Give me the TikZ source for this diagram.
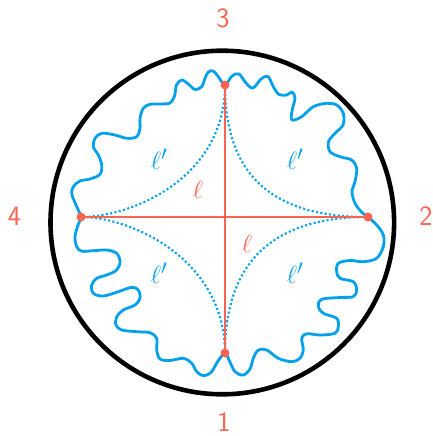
\documentclass[tikz,border=0pt]{standalone}
\usepackage{fontspec}
\usetikzlibrary{calc}
\definecolor{lred}{RGB}{250,100,82}
\definecolor{lblue}{RGB}{5,160,236}
\tikzset{
  ptdot/.style={circle,fill=lred,inner sep=0pt,minimum size=9pt},
  numlab/.style={text=lred,font=\sffamily\fontsize{28}{32}\selectfont,inner sep=0pt},
  elllab/.style={text=lred,font=\fontsize{29}{33}\selectfont,inner sep=0pt},
  primelab/.style={text=lblue,font=\fontsize{29}{33}\selectfont,inner sep=0pt},
  geod/.style={lblue,line width=2.1pt,dash pattern=on 2.1pt off 2.3pt},
  chord/.style={lred,line width=2.2pt},
  wavy/.style={lblue,line width=2.8pt,line join=round},
  rim/.style={black,line width=4.6pt}
}
\begin{document}
\begin{tikzpicture}[x=1pt,y=-1pt]
\useasboundingbox (0,0) rectangle (433,436);
\coordinate (p3) at (225,85);
\coordinate (p2) at (368,217);
\coordinate (p1) at (225,353);
\coordinate (p4) at (81,217);
\coordinate (c) at (222.3,222.5);
% wavy curve
\draw[wavy] plot[smooth cycle,tension=0.55] coordinates {
(225,85) (232,76) (239,74) (246,83) (253,88) (261,79) (268,76.5) (273.5,87) (279,94.5)
(286.7,95) (292,92) (295,98) (292,111) (292,120) (301.7,116.7) (313.3,106.7)
(326.7,103.3) (336.7,105) (343.3,113.3) (343,125) (335,133.3) (328.5,141.7)
(330,151.7) (340,156.7) (351.7,160) (356.7,168.3) (355,181.7) (352,191.7)
(355,203.3) (362,212.5) (368,217)
(376.7,225) (383.3,235) (383.3,246.7) (376.7,258.3) (363.3,261.7) (350,260.5)
(338.3,263.3) (336.7,271.7) (340,278.3) (353.3,281.7) (356.7,290) (353.3,296.7)
(340,297.5) (321.7,299.3) (318.3,306.7) (323.3,313.3) (336.7,318.3) (338.3,326.7)
(335,333.3) (320,335) (306.7,333.8) (301.7,338.3) (303.3,350) (300,358.3)
(291.7,361.7) (278.3,358.3) (266.7,350) (258.3,350) (253.3,358.3) (250,369)
(243.3,375) (235,371.7) (229,360) (225,353)
(218,361) (211,372.5) (203.3,375.7) (196.7,371.7) (191.7,363.3) (183.3,358.3)
(170,360.5) (160,359) (156.7,350) (156.7,338.3) (150,332.7) (136.7,331.7)
(121.7,330) (116,325) (116.7,316.7) (123.3,310) (135,305) (140,298.3)
(138.3,290) (131.7,287.3) (118.3,291.7) (103.3,296) (93.3,293.3) (91.7,285)
(96.7,278.3) (106.7,275) (116.7,270) (120,261.7) (116.7,253.3) (106.7,250)
(93.3,250.7) (81.7,251.2) (76.7,246.7) (75,236.7) (78,225) (81,217)
(78.3,210) (72,195) (73.3,186.7) (80,181) (90,179) (100,174.3) (101.7,165)
(98.3,155) (93.3,146.7) (95,138.3) (101.7,133.3) (115,135) (126.7,138.3)
(136.7,136.7) (140,128.3) (140,118.3) (143.3,108.3) (150,104.3) (160,104)
(170,103) (174.5,96) (176.5,85) (181.7,80) (188.3,84) (195,89.5) (201.7,86.7)
(205,78.3) (208.3,72) (213.3,71) (218.3,76.7)
};
% dotted geodesics
\draw[geod] (p3) .. controls (225,178) and (132,217) .. (p4);
\draw[geod] (p3) .. controls (225,178) and (275,217) .. (p2);
\draw[geod] (p1) .. controls (225,260) and (132,217) .. (p4);
\draw[geod] (p1) .. controls (225,260) and (275,217) .. (p2);
% chords
\draw[chord] (p4) -- (p2);
\draw[chord] (p3) -- (p1);
% points
\node[ptdot] (d3) at (p3) {};
\node[ptdot] (d2) at (p2) {};
\node[ptdot] (d1) at (p1) {};
\node[ptdot] (d4) at (p4) {};
% boundary circle
\draw[rim] (c) circle[radius=171.8];
% labels
\node[numlab] (l3) at (223,18.5) {3};
\node[numlab] (l1) at (224,422.5) {1};
\node[numlab] (l4) at (14.5,216.5) {4};
\node[numlab] (l2) at (426,216.5) {2};
\node[elllab] (e1) at (198,190) {$\ell$};
\node[elllab] (e2) at (247,244) {$\ell$};
\node[primelab] (q1) at (159,159) {$\ell'$};
\node[primelab] (q2) at (295,159) {$\ell'$};
\node[primelab] (q3) at (159,273) {$\ell'$};
\node[primelab] (q4) at (295,273) {$\ell'$};
\end{tikzpicture}
\end{document}
